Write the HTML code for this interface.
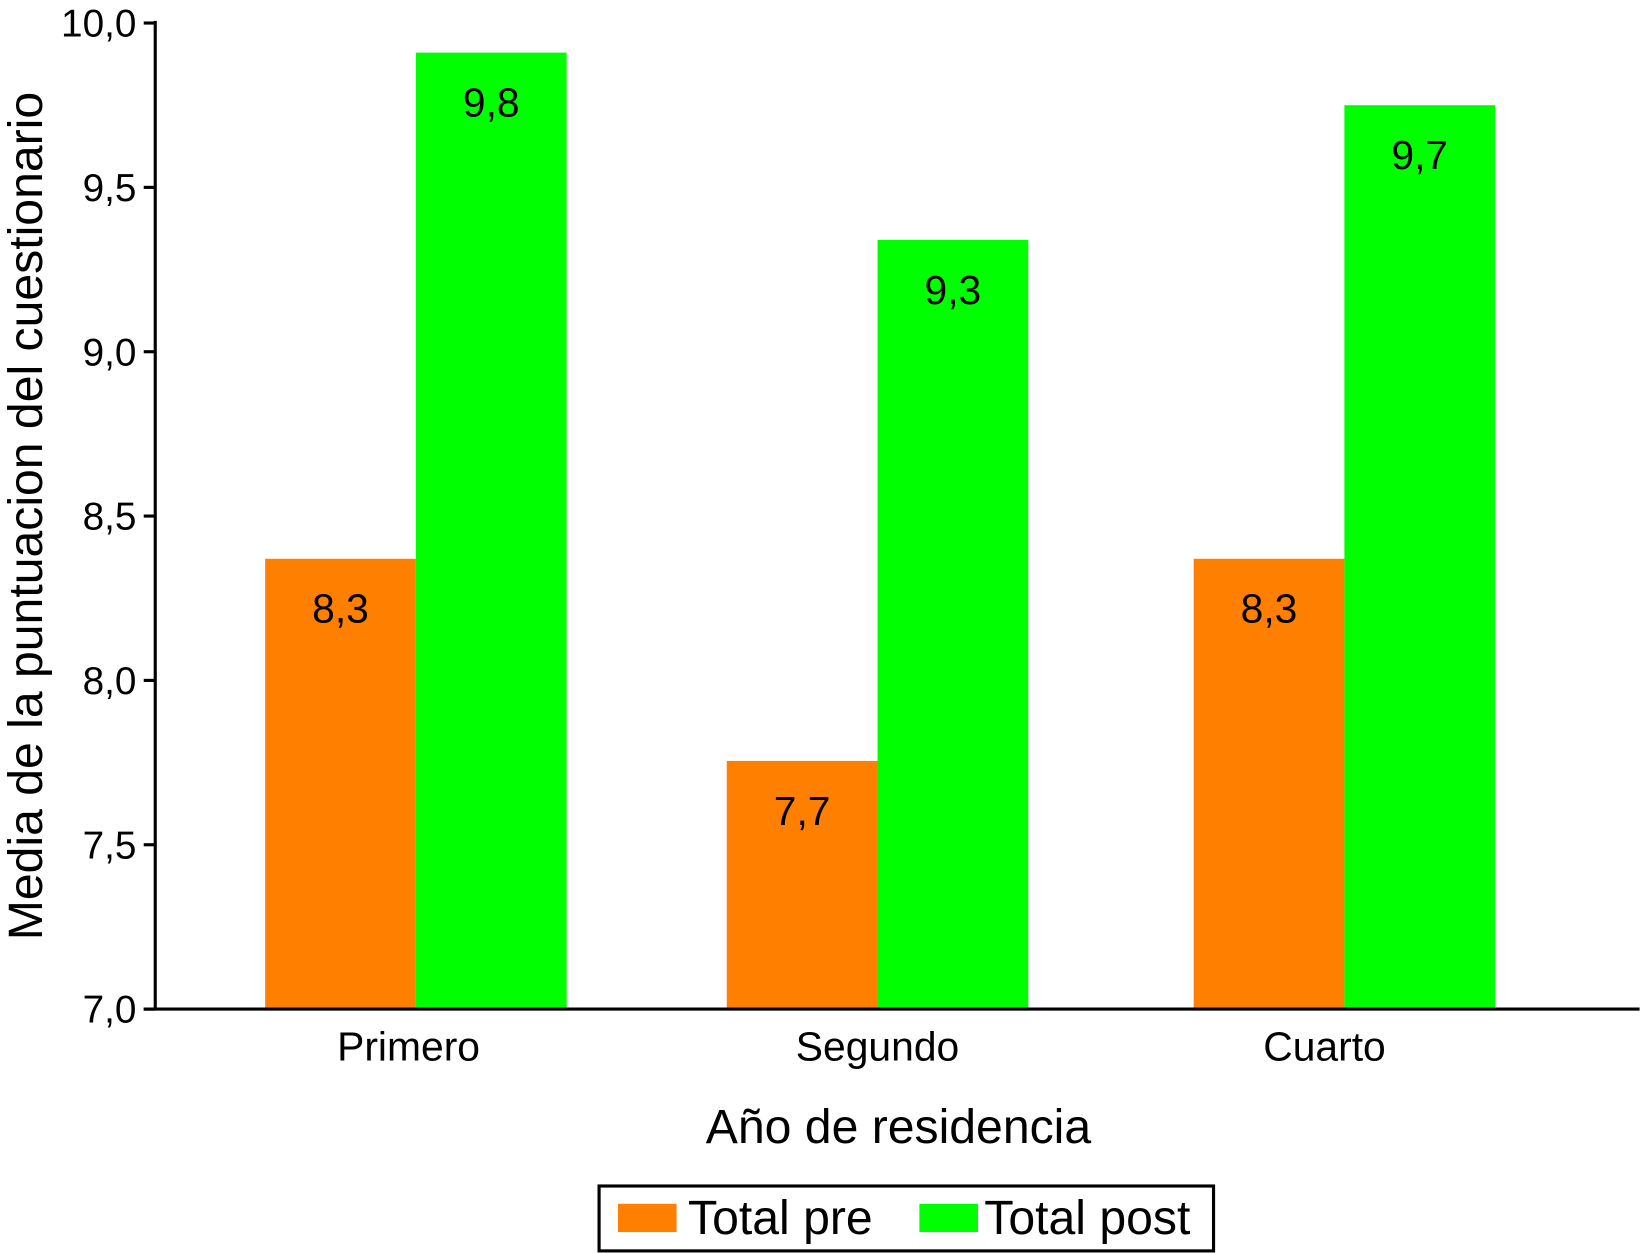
<!DOCTYPE html>
<html><head><meta charset="utf-8"><style>html,body{margin:0;padding:0;background:#fff}svg{display:block}text{font-family:"Liberation Sans",sans-serif;fill:#000}</style></head>
<body>
<svg id="chart" width="1642" height="1253" viewBox="0 0 1568 1197" xmlns="http://www.w3.org/2000/svg"></svg>
<script>
const categories = ["Primero", "Segundo", "Cuarto"];
const preValues = [8.37, 7.755, 8.37];
const postValues = [9.91, 9.34, 9.75];
const preLabels = ["8,3", "7,7", "8,3"];
const postLabels = ["9,8", "9,3", "9,7"];
const yTicks = [7.0, 7.5, 8.0, 8.5, 9.0, 9.5, 10.0];
const yTickLabels = ["7,0", "7,5", "8,0", "8,5", "9,0", "9,5", "10,0"];

const NS = "http://www.w3.org/2000/svg";
const svg = document.getElementById("chart");
const x0 = 148, yBase = 964, yTop = 22, yMin = 7, yMax = 10;
const y = v => yBase - (v - yMin) / (yMax - yMin) * (yBase - yTop);
const groupStart = [253, 694, 1140];
const catLabelX = [390, 838, 1265];
const barW = 144;
const xCat = i => groupStart[i];
function mk(tag, attrs, parent) {
  const e = document.createElementNS(NS, tag);
  for (const k in attrs) e.setAttribute(k, attrs[k]);
  (parent || svg).appendChild(e);
  return e;
}
categories.forEach((c, i) => {
  const xs = xCat(i);
  const r1 = mk("rect", {x: xs, y: y(preValues[i]), width: barW, height: yBase - y(preValues[i]), fill: "#ff8000"});
  
  
  const r2 = mk("rect", {x: xs + barW, y: y(postValues[i]), width: barW, height: yBase - y(postValues[i]), fill: "#00ff00"});
  
  
  const t1 = mk("text", {x: xs + barW / 2, y: y(preValues[i]) + 61, "font-size": 39, "text-anchor": "middle"});
  t1.textContent = preLabels[i];
  
  
  const t2 = mk("text", {x: xs + barW * 1.5, y: y(postValues[i]) + 61, "font-size": 39, "text-anchor": "middle"});
  t2.textContent = postLabels[i];
  
  
  const cl = mk("text", {x: catLabelX[i], y: 1013, "font-size": 39, "text-anchor": "middle"});
  cl.textContent = c;
  
  
});
yTicks.forEach((v, i) => {
  const tk = mk("line", {x1: x0 - 11, x2: x0, y1: y(v), y2: y(v), stroke: "#000", "stroke-width": 3});
  
  
  const tl = mk("text", {x: 130, y: y(v) + 13, "font-size": 37, "text-anchor": "end"});
  tl.textContent = yTickLabels[i];
  
  
});
const ya = mk("line", {x1: x0, x2: x0, y1: yTop - 2, y2: yBase + 1, stroke: "#000", "stroke-width": 3});


const xa = mk("line", {x1: x0 - 11, x2: 1566, y1: yBase, y2: yBase, stroke: "#000", "stroke-width": 3});


const yt = mk("text", {x: 0, y: 0, "font-size": 46, "text-anchor": "middle", transform: "translate(40,493) rotate(-90)"});
yt.textContent = "Media de la puntuacion del cuestionario";


const xt = mk("text", {x: 858, y: 1092, "font-size": 46, "text-anchor": "middle"});
xt.textContent = "Año de residencia";


const lg = mk("g", {});


mk("rect", {x: 572, y: 1133, width: 587, height: 62, fill: "none", stroke: "#000", "stroke-width": 3}, lg);
const s1 = mk("rect", {x: 590, y: 1150, width: 56, height: 27, fill: "#ff8000"}, lg);


const l1 = mk("text", {x: 657, y: 1179, "font-size": 46}, lg);
l1.textContent = "Total pre";


const s2 = mk("rect", {x: 878, y: 1150, width: 56, height: 27, fill: "#00ff00"}, lg);


const l2 = mk("text", {x: 940, y: 1179, "font-size": 46}, lg);
l2.textContent = "Total post";


</script>
</body></html>
